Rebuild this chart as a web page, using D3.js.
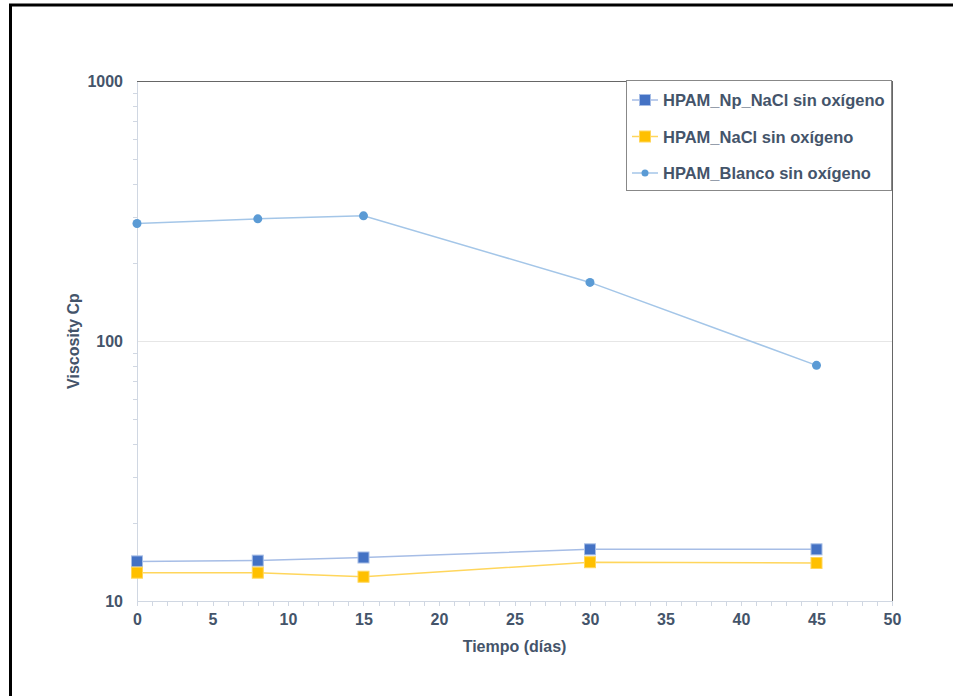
<!DOCTYPE html>
<html>
<head>
<meta charset="utf-8">
<script src="https://cdn.jsdelivr.net/npm/d3@7"></script>
<style>
  html, body { margin: 0; padding: 0; background: #fff; }
  svg { display: block; }
  text { font-family: "Liberation Sans", Arial, sans-serif; font-weight: bold; fill: #44546a; }
</style>
</head>
<body>
<script>
// Viscosity over time, three HPAM samples without oxygen
const days = [0, 8, 15, 30, 45];
const npNaCl = [14.2, 14.3, 14.7, 15.8, 15.8];
const naCl = [12.85, 12.85, 12.4, 14.1, 14.0];
const blanco = [283, 295, 303, 168, 80.6];
const seriesNames = ["HPAM_Np_NaCl sin oxígeno", "HPAM_NaCl sin oxígeno", "HPAM_Blanco sin oxígeno"];
const xTicks = [0, 5, 10, 15, 20, 25, 30, 35, 40, 45, 50];
const yTicks = [10, 100, 1000];

const W = 953, H = 696;
const svg = d3.select("body").append("svg").attr("width", W).attr("height", H);

// outer frame (top and left edges)
svg.append("line").attr("x1", 9).attr("x2", W).attr("y1", 5).attr("y2", 5)
  .attr("stroke", "#000").attr("stroke-width", 3);
svg.append("line").attr("x1", 10.5).attr("x2", 10.5).attr("y1", 4).attr("y2", H)
  .attr("stroke", "#000").attr("stroke-width", 3);

const mLeft = 137, mRight = 892, mTop = 81, mBottom = 601;
const x = d3.scaleLinear().domain([0, 50]).range([mLeft, mRight]);
const y = d3.scaleLog().domain([10, 1000]).range([mBottom, mTop]);

// grid line at 100
svg.append("line").attr("x1", mLeft).attr("x2", mRight)
  .attr("y1", Math.round(y(100)) + 0.5).attr("y2", Math.round(y(100)) + 0.5)
  .attr("stroke", "#e6e6e6").attr("stroke-width", 1);

// minor log ticks on y axis
const minor = [];
for (let dec = 10; dec < 1000; dec *= 10) for (let k = 2; k <= 9; k++) minor.push(dec * k);
svg.append("g").selectAll("line").data(minor).join("line")
  .attr("x1", mLeft - 4).attr("x2", mLeft)
  .attr("y1", d => Math.round(y(d)) + 0.5).attr("y2", d => Math.round(y(d)) + 0.5)
  .attr("stroke", "#d0d7e2");

// minor ticks on x axis every unit
svg.append("g").selectAll("line").data(d3.range(0, 51)).join("line")
  .attr("x1", d => Math.round(x(d)) + 0.5).attr("x2", d => Math.round(x(d)) + 0.5)
  .attr("y1", mBottom).attr("y2", mBottom + 5)
  .attr("stroke", "#d0d7e2");

// axes
const xAxis = svg.append("g").attr("transform", `translate(0,${mBottom})`)
  .call(d3.axisBottom(x).tickValues(xTicks).tickSize(0).tickPadding(13));
xAxis.select(".domain").attr("stroke", "#d0d7e2");
xAxis.selectAll("text").attr("font-size", 16).style("fill", "#44546a");

const yAxis = svg.append("g").attr("transform", `translate(${mLeft},0)`)
  .call(d3.axisLeft(y).tickValues(yTicks).tickFormat(d3.format("d")).tickSize(0).tickPadding(14));
yAxis.select(".domain").attr("stroke", "#d0d7e2");
yAxis.selectAll("text").attr("font-size", 16).style("fill", "#44546a");

// top and right plot borders
svg.append("line").attr("x1", mLeft).attr("x2", mRight + 1).attr("y1", mTop + 0.5).attr("y2", mTop + 0.5)
  .attr("stroke", "#666");
svg.append("line").attr("x1", mRight + 0.5).attr("x2", mRight + 0.5).attr("y1", mTop).attr("y2", mBottom)
  .attr("stroke", "#666");

// axis titles
svg.append("text").attr("x", (mLeft + mRight) / 2).attr("y", 652)
  .attr("text-anchor", "middle").attr("font-size", 16).text("Tiempo (días)");
svg.append("text").attr("transform", `translate(79,${(mTop + mBottom) / 2}) rotate(-90)`)
  .attr("text-anchor", "middle").attr("font-size", 16).text("Viscosity Cp");

const series = [
  { name: seriesNames[0], vals: npNaCl, line: "#a6bde6", fill: "#4472c4", shape: "square" },
  { name: seriesNames[1], vals: naCl, line: "#ffd65c", fill: "#ffc000", shape: "square" },
  { name: seriesNames[2], vals: blanco, line: "#a4c6e8", fill: "#5b9bd5", shape: "circle" }
];

const lineGen = d3.line().x((d, i) => x(days[i])).y(d => y(d));

series.forEach(s => {
  svg.append("path").datum(s.vals).attr("d", lineGen)
    .attr("fill", "none").attr("stroke", s.line).attr("stroke-width", 1.5);
  const g = svg.append("g");
  if (s.shape === "square") {
    g.selectAll("rect").data(s.vals).join("rect")
      .attr("x", (d, i) => x(days[i]) - 5.5).attr("y", d => y(d) - 5.5)
      .attr("width", 11).attr("height", 11)
      .attr("fill", s.fill).attr("stroke", s.line).attr("stroke-width", 1);
  } else {
    g.selectAll("circle").data(s.vals).join("circle")
      .attr("cx", (d, i) => x(days[i])).attr("cy", d => y(d)).attr("r", 4.5)
      .attr("fill", s.fill);
  }
});

// legend
const lg = svg.append("g");
lg.append("rect").attr("x", 626.5).attr("y", 80.5).attr("width", 265).attr("height", 110)
  .attr("fill", "#fff").attr("stroke", "#888");
series.forEach((s, i) => {
  const cy = 100 + i * 36.5;
  lg.append("line").attr("x1", 632).attr("x2", 658).attr("y1", cy).attr("y2", cy)
    .attr("stroke", s.line).attr("stroke-width", 1.5);
  if (s.shape === "square") {
    lg.append("rect").attr("x", 645 - 5.5).attr("y", cy - 5.5).attr("width", 11).attr("height", 11)
      .attr("fill", s.fill).attr("stroke", s.line);
  } else {
    lg.append("circle").attr("cx", 645).attr("cy", cy).attr("r", 3.5).attr("fill", s.fill);
  }
  lg.append("text").attr("x", 663).attr("y", cy + 6).attr("font-size", 16.5).text(s.name);
});
</script>
</body>
</html>
